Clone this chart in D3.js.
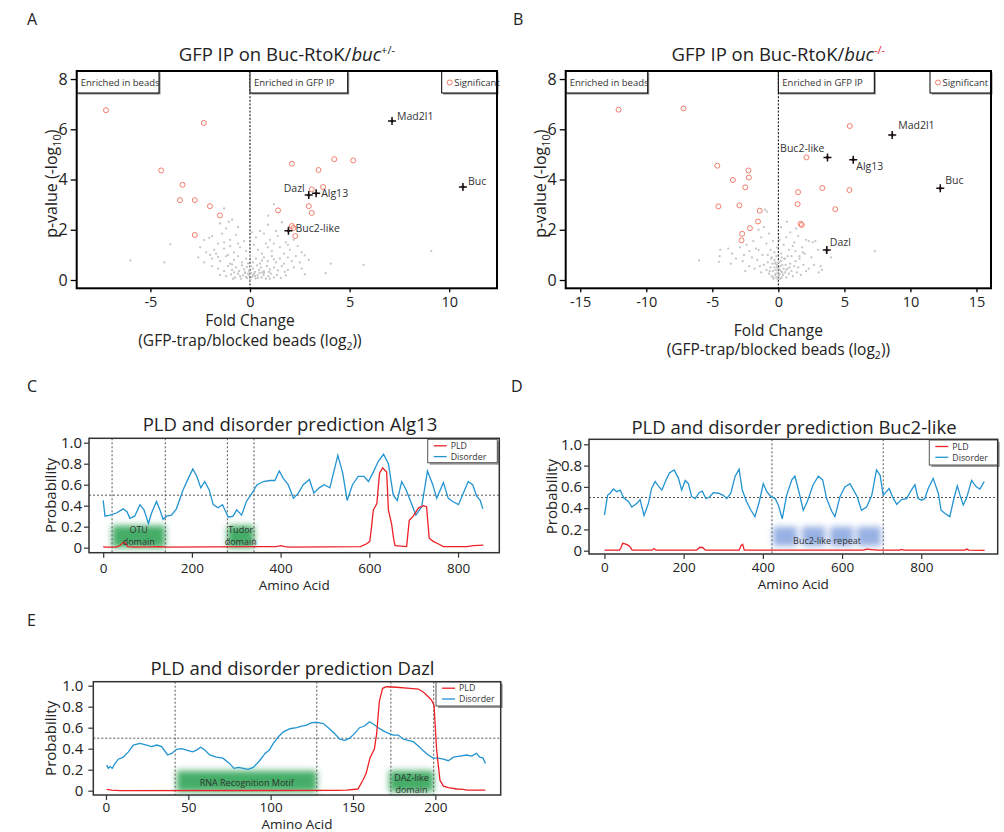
<!DOCTYPE html>
<html><head><meta charset="utf-8">
<script src="https://cdn.jsdelivr.net/npm/d3@7"></script>
<style>
body{margin:0;background:#fff;}
svg{display:block;}
</style></head><body>
<svg id="fig" width="1004" height="832"></svg>
<script>
const FONT = '"Open Sans", sans-serif';

// ---------- Volcano plots: [log2 fold change, -log10 p] ----------
const pTicks = [0, 2, 4, 6, 8];
const aFoldTicks = [-5, 0, 5, 10];
const bFoldTicks = [-15, -10, -5, 0, 5, 10, 15];

const aSignificant = [[-7.23,6.76],[-2.32,6.25],[-4.46,4.36],[-3.39,3.79],[-3.52,3.18],[-2.77,3.18],[-2.01,2.94],[-1.51,2.57],[-2.77,1.79],
  [2.10,4.63],[4.23,4.81],[5.18,4.76],[3.44,4.38],[3.67,3.70],[3.10,3.61],[1.41,2.77],[2.95,2.94],[3.10,2.67],[2.10,2.15],[2.18,2.07],[2.27,1.75]];
const aHits = [["Mad2l1",7.13,6.33],["Buc",10.69,3.70],["Dazl",2.95,3.38],["Alg13",3.32,3.45],["Buc2-like",1.93,1.96]];
const aBackground = [[-6.0,0.78],[-4.3,0.7],[-4.0,1.42],[9.1,1.15],[5.7,0.6],[4.05,0.65],[3.8,0.27],[2.75,0.98],[2.95,0.8],[2.75,0.23],[1.2,3.02],[0.92,2.56],[-1.3,2.85],[-1.5,2.25],[-1.07,2.32],[-2.3,1.59],[-2.05,1.68],[-2.5,1.3],[-1.8,1.2],[-1.6,1.45],[-2.6,0.9],
  [-1.2,2.05],[-0.9,2.4],[0.9,2.2],[1.6,2.3],[1.3,1.95],[-0.6,2.1],[0.5,1.95],
  [-1.9,1.75],[-1.4,1.85],[-1.0,1.6],[-0.7,1.8],[-0.3,1.55],[0.3,1.7],[0.7,1.85],[1.0,1.6],[1.4,1.75],[1.8,1.5],[2.2,1.6],[1.2,1.45],[-1.3,1.5],[0.1,1.9],
  [-2.2,1.1],[-1.7,1.05],[-1.3,1.25],[-1.0,1.35],[-0.8,1.1],[-0.5,1.3],[-0.2,1.15],[0.2,1.4],[0.4,1.2],[0.6,1.05],[0.9,1.3],[1.1,1.15],[1.5,1.3],[1.7,1.05],[2.0,1.2],[2.4,1.35],[2.6,1.1],[-0.6,1.45],[0.8,1.45],[1.9,1.4],[-1.1,1.0],
  [-2.3,0.7],[-1.9,0.85],[-1.5,0.75],[-1.2,0.95],[-1.0,0.65],[-0.8,0.8],[-0.6,0.95],[-0.4,0.7],[-0.2,0.85],[0.0,0.95],[0.15,0.7],[0.3,0.85],[0.5,0.65],[0.7,0.9],[0.9,0.75],[1.1,0.95],[1.3,0.7],[1.5,0.85],[1.7,0.65],[1.9,0.9],[2.1,0.75],[2.3,0.95],[-0.9,0.62],[0.6,0.78],[1.2,0.82],[-1.6,0.92],[-0.1,0.66],[2.5,0.7],[-2.0,1.0],
  [-1.6,0.45],[-1.3,0.35],[-1.1,0.55],[-0.9,0.4],[-0.7,0.5],[-0.55,0.35],[-0.4,0.58],[-0.3,0.42],[-0.15,0.52],[-0.05,0.36],[0.05,0.55],[0.15,0.45],[0.25,0.32],[0.35,0.58],[0.45,0.4],[0.55,0.5],[0.7,0.35],[0.85,0.55],[1.0,0.42],[1.2,0.5],[1.4,0.38],[1.6,0.55],[1.9,0.4],[2.2,0.5],[-0.8,0.3],[0.6,0.3],[-0.25,0.3],[0.95,0.32],[-1.9,0.55],[2.6,0.45],[1.75,0.32],
  [-1.2,0.15],[-0.95,0.22],[-0.75,0.1],[-0.6,0.25],[-0.45,0.05],[-0.35,0.18],[-0.25,0.28],[-0.15,0.08],[-0.05,0.2],[0.02,0.02],[0.1,0.12],[0.2,0.25],[0.28,0.06],[0.38,0.18],[0.48,0.28],[0.58,0.1],[0.68,0.2],[0.8,0.05],[0.92,0.15],[1.05,0.25],[1.2,0.1],[1.35,0.2],[1.55,0.08],[1.8,0.18],[-0.5,0.15],[0.15,0.2],[-0.1,0.25],[0.4,0.08],[0.05,0.28],[-0.2,0.12],[0.7,0.28],[1.0,0.05],[-1.5,0.2],[-0.85,0.05],[0.25,0.15]];

const bSignificant = [[-12.1,6.78],[-7.18,6.83],[-4.62,4.55],[-2.26,4.36],[-3.44,3.98],[-2.23,4.08],[-2.51,3.69],[-4.54,2.93],[-2.95,2.97],[-1.41,2.76],[-1.54,2.33],[-2.15,2.06],[-2.74,1.84],[-2.79,1.58],
  [5.41,6.13],[2.13,4.88],[3.33,3.66],[5.38,3.58],[1.49,3.50],[1.46,3.02],[4.31,2.82],[1.69,2.24],[1.77,2.19]];
const bHits = [["Mad2l1",8.62,5.77],["Buc2-like",3.72,4.88],["Alg13",5.67,4.79],["Buc",12.26,3.65],["Dazl",3.67,1.19]];
const bBackground = [[-6.0,0.78],[-4.5,0.72],[-4.45,0.95],[-4.4,1.2],[-3.8,1.25],[-3.5,1.05],[-3.2,0.85],[-3.6,0.65],[-2.9,1.3],[-2.6,1.0],[-2.4,1.4],[-2.7,0.75],[-2.2,1.15],[-2.0,0.9],[-1.9,1.55],[-1.7,1.25],[-1.5,2.0],[-1.3,1.7],[-1.1,2.1],[-1.0,2.8],[-0.85,2.72],[-0.9,1.45],[-1.2,1.0],[-1.6,0.8],[-1.4,0.55],[-0.7,1.85],[-0.6,1.2],[-0.5,0.9],[-0.4,1.55],[-0.3,1.1],[-0.2,0.7],[-0.1,1.3],[0.1,1.6],[0.2,1.05],[0.4,1.4],[0.5,0.85],[0.6,1.7],[0.8,1.2],[0.9,1.9],[1.0,0.95],[1.2,1.5],[1.3,1.15],[1.5,1.75],[1.6,0.85],[1.8,1.3],[2.0,1.05],[2.1,1.6],[2.3,1.55],[2.5,0.9],[2.6,1.5],[2.8,1.55],[3.0,1.2],[3.2,0.55],[3.3,0.4],[3.05,0.3],[2.7,0.6],[2.3,0.45],[3.6,1.1],[0.64,2.32],[1.35,2.05],[0.2,2.1],[7.3,1.15],[4.0,0.9],[-2.5,0.35],[-1.8,0.45],
  [-1.1,0.6],[-0.9,0.4],[-0.8,0.7],[-0.7,0.25],[-0.6,0.5],[-0.5,0.15],[-0.45,0.65],[-0.4,0.35],[-0.35,0.05],[-0.3,0.5],[-0.25,0.2],[-0.2,0.4],[-0.15,0.1],[-0.1,0.6],[-0.05,0.3],[0.0,0.15],[0.0,0.45],[0.05,0.7],[0.1,0.25],[0.12,0.05],[0.15,0.55],[0.2,0.35],[0.25,0.1],[0.3,0.6],[0.35,0.2],[0.4,0.45],[0.5,0.3],[0.55,0.6],[0.6,0.1],[0.7,0.45],[0.8,0.25],[0.9,0.65],[1.0,0.35],[1.1,0.15],[1.2,0.55],[1.3,0.75],[1.4,0.3],[1.5,0.5],[1.7,0.2],[1.9,0.6],[2.1,0.35],[-0.3,0.8],[-0.55,0.85],[0.45,0.85],[-0.15,0.95],[0.25,0.9],[0.7,0.95],[-0.8,1.0],[1.1,1.35],[-0.05,0.02],[-0.2,0.25],[0.1,0.4],[-0.4,0.1],[0.3,0.3],[-0.1,0.5],[0.05,0.2],[0.2,0.75],[-0.25,0.65],[0.6,0.4],[-0.65,0.35],[0.85,0.5],[1.6,0.95],[1.85,1.1],[-1.3,0.3],[-2.2,0.55],[-1.5,1.2]];

// ---------- Sequence profiles: [amino acid, probability] ----------
const probTicks = [0, 0.2, 0.4, 0.6, 0.8, 1.0];
const longAaTicks = [0, 200, 400, 600, 800];
const dazlAaTicks = [0, 50, 100, 150, 200];

const alg13Disorder = [[0,0.45],[4,0.30],[15,0.31],[30,0.33],[45,0.37],[54,0.34],[60,0.28],[71,0.30],[83,0.41],[92,0.36],[102,0.23],[109,0.33],[120,0.44],[128,0.36],[135,0.27],[143,0.30],[154,0.31],[165,0.37],[180,0.55],[192,0.66],[202,0.75],[211,0.68],[220,0.57],[229,0.63],[239,0.55],[248,0.41],[259,0.38],[269,0.41],[282,0.29],[293,0.30],[301,0.36],[312,0.31],[323,0.44],[337,0.53],[347,0.60],[361,0.63],[376,0.64],[387,0.64],[397,0.73],[406,0.66],[417,0.60],[429,0.47],[440,0.52],[451,0.60],[465,0.65],[475,0.52],[487,0.57],[498,0.60],[511,0.57],[529,0.88],[540,0.71],[550,0.45],[562,0.60],[575,0.68],[588,0.68],[598,0.63],[609,0.72],[620,0.82],[632,0.89],[643,0.80],[654,0.50],[663,0.45],[673,0.63],[683,0.55],[695,0.42],[705,0.31],[718,0.39],[731,0.73],[743,0.60],[752,0.47],[767,0.62],[778,0.47],[788,0.44],[801,0.41],[812,0.52],[823,0.63],[833,0.60],[842,0.49],[850,0.45],[856,0.37]];
const alg13PLD = [[0,0.01],[5,0.005],[30,0.005],[38,0.02],[45,0.05],[50,0.045],[55,0.01],[70,0.005],[130,0.01],[145,0.005],[390,0.01],[400,0.02],[410,0.01],[420,0.005],[580,0.01],[595,0.04],[601,0.06],[605,0.2],[609,0.36],[617,0.42],[623,0.71],[630,0.76],[639,0.72],[643,0.36],[650,0.23],[655,0.08],[658,0.02],[684,0.01],[690,0.26],[699,0.30],[711,0.38],[722,0.40],[729,0.39],[735,0.09],[744,0.06],[756,0.035],[767,0.01],[820,0.01],[835,0.02],[857,0.025]];
const alg13Guides = [20, 140, 280, 340];
const alg13Domains = [[["OTU","domain"],20,140],[["Tudor","domain"],280,340]];

const buc2Disorder = [[0,0.335],[8,0.52],[14,0.54],[23,0.58],[31,0.555],[40,0.57],[48,0.50],[61,0.46],[69,0.41],[82,0.445],[90,0.48],[100,0.33],[111,0.445],[119,0.585],[128,0.65],[136,0.61],[145,0.57],[155,0.66],[164,0.73],[176,0.76],[187,0.68],[195,0.57],[204,0.66],[212,0.63],[220,0.51],[229,0.49],[239,0.545],[247,0.56],[256,0.49],[264,0.50],[275,0.545],[288,0.54],[300,0.52],[309,0.49],[319,0.54],[330,0.70],[340,0.765],[348,0.57],[359,0.46],[370,0.38],[380,0.32],[391,0.46],[401,0.63],[410,0.555],[420,0.51],[431,0.49],[439,0.43],[449,0.30],[460,0.52],[473,0.665],[481,0.70],[492,0.54],[502,0.38],[512,0.46],[527,0.62],[540,0.70],[551,0.665],[561,0.49],[574,0.37],[582,0.32],[595,0.51],[607,0.60],[620,0.63],[631,0.555],[638,0.51],[649,0.38],[662,0.41],[675,0.52],[687,0.76],[696,0.71],[704,0.52],[712,0.555],[719,0.585],[727,0.51],[738,0.435],[750,0.48],[763,0.49],[775,0.57],[784,0.62],[792,0.49],[801,0.475],[809,0.49],[817,0.58],[830,0.68],[843,0.54],[850,0.38],[860,0.35],[872,0.32],[883,0.50],[891,0.61],[898,0.52],[906,0.43],[914,0.49],[927,0.66],[939,0.60],[948,0.58],[956,0.63],[959,0.65]];
const buc2PLD = [[0,0.005],[38,0.005],[42,0.03],[46,0.07],[52,0.065],[58,0.055],[64,0.04],[70,0.005],[120,0.005],[125,0.02],[130,0.005],[233,0.005],[240,0.03],[248,0.03],[255,0.005],[340,0.005],[345,0.05],[349,0.06],[353,0.005],[655,0.005],[662,0.015],[675,0.01],[690,0.005],[745,0.005],[750,0.012],[756,0.005],[910,0.005],[915,0.015],[920,0.005],[960,0.003]];
const buc2Guides = [423, 704];
const buc2Repeats = [[426,486],[499,557],[570,628],[638,698]];

const dazlDisorder = [[0.4,0.244],[1.4,0.213],[2.4,0.23],[3.8,0.213],[5.5,0.26],[7.5,0.30],[10.5,0.32],[13.6,0.37],[16.6,0.435],[20.6,0.45],[24.7,0.435],[27.7,0.42],[30.8,0.435],[33.8,0.42],[37.4,0.34],[39.9,0.355],[42.9,0.394],[46,0.40],[49,0.387],[52.6,0.37],[55,0.387],[57.5,0.413],[60,0.387],[63,0.34],[67,0.32],[71,0.31],[75,0.26],[77.7,0.213],[80.4,0.222],[83.4,0.213],[86.4,0.203],[89.5,0.222],[93.5,0.29],[96.6,0.355],[99.2,0.387],[101.6,0.45],[104.7,0.514],[107.7,0.56],[111.7,0.59],[115.8,0.60],[118.8,0.616],[121.9,0.625],[124.9,0.648],[128.3,0.65],[132,0.64],[135,0.60],[138.5,0.55],[142,0.49],[145,0.48],[148,0.50],[151,0.546],[154,0.60],[157,0.616],[160,0.657],[162.3,0.635],[165.4,0.60],[168.4,0.57],[171.5,0.546],[174.5,0.53],[177.5,0.53],[180.6,0.49],[183.6,0.48],[186.6,0.467],[189.7,0.425],[192.7,0.38],[195.7,0.34],[198.8,0.31],[201.8,0.31],[204.9,0.30],[207.9,0.286],[211,0.32],[215,0.33],[219,0.34],[222,0.33],[225,0.355],[227,0.32],[229,0.31],[230.4,0.26]];
const dazlPLD = [[0.4,0.013],[3.4,0.006],[8.5,0],[140,0.003],[146,0.006],[153,0.016],[156,0.10],[158,0.165],[160.3,0.31],[163,0.40],[164.4,0.546],[166,0.85],[168,0.975],[170.4,0.99],[176.5,0.985],[184.6,0.975],[189.7,0.968],[192.7,0.94],[195.7,0.895],[197.8,0.86],[199.2,0.815],[200.8,0.387],[202.8,0.10],[204.9,0.044],[207.9,0.03],[213,0.016],[217,0.013],[219,0.006],[230.4,0.006]];
const dazlGuides = [42, 128, 173, 199];
const dazlDomains = [[["RNA Recognition Motif"],43,128],[["DAZ-like","domain"],172,199]];

// ---------- drawing ----------
const svg = d3.select("#fig").attr("font-family", FONT);
const defs = svg.append("defs");
defs.append("filter").attr("id", "soft").attr("x", "-40%").attr("y", "-60%").attr("width", "180%").attr("height", "220%")
  .append("feGaussianBlur").attr("stdDeviation", 3);

function panelLetter(txt, x, y) {
  svg.append("text").attr("x", x).attr("y", y).attr("font-size", 16).attr("fill", "#222").text(txt);
}

function legendBox(g, x0, y0, w, h, shadow) {
  g.append("rect").attr("x", x0 + 1.5).attr("y", y0 + 1.5).attr("width", w).attr("height", h).attr("fill", shadow);
  g.append("rect").attr("x", x0).attr("y", y0).attr("width", w).attr("height", h).attr("fill", "#fff").attr("stroke", "#000").attr("stroke-width", 1);
}

function drawVolcano(o) {
  const x = d3.scaleLinear().domain(o.xDomain).range([o.left, o.right]);
  const y = d3.scaleLinear().domain([-0.33, 8.32]).range([o.bottom, o.top]);
  const g = svg.append("g");

  g.append("line").attr("x1", x(0)).attr("x2", x(0)).attr("y1", o.top).attr("y2", o.bottom)
    .attr("stroke", "#000").attr("stroke-width", 1).attr("stroke-dasharray", "2,1.6");

  g.append("g").selectAll("circle").data(o.background).join("circle")
    .attr("cx", d => x(d[0])).attr("cy", d => y(d[1])).attr("r", 1.15).attr("fill", "#c6c6c6");

  g.append("g").selectAll("circle").data(o.significant).join("circle")
    .attr("cx", d => x(d[0])).attr("cy", d => y(d[1])).attr("r", 2.5)
    .attr("fill", "none").attr("stroke", "#f27e6c").attr("stroke-width", 1);

  const hits = g.append("g").selectAll("g").data(o.hits).join("g")
    .attr("transform", d => `translate(${x(d[1])},${y(d[2])})`);
  hits.append("circle").attr("r", 1.7).attr("fill", "#b7463c");
  hits.append("path").attr("d", "M-4,0H4M0,-4V4").attr("stroke", "#111").attr("stroke-width", 1.5);
  hits.append("text").text(d => d[0])
    .attr("x", d => o.labelPos[d[0]][0]).attr("y", d => o.labelPos[d[0]][1])
    .attr("text-anchor", d => o.labelPos[d[0]][2])
    .attr("font-size", 10.5).attr("fill", "#333");

  // key boxes along the top edge
  const bh = 22;
  legendBox(g, o.left, o.top, o.beadsRight - o.left, bh, "#8a8a8a");
  legendBox(g, x(0), o.top, o.gfpRight - x(0), bh, "#8a8a8a");
  legendBox(g, o.sigLeft, o.top, o.right - o.sigLeft, bh, "#8a8a8a");
  g.append("text").attr("x", o.left + 4).attr("y", o.top + 15).attr("font-size", 9.5).attr("fill", "#333").text("Enriched in beads");
  g.append("text").attr("x", x(0) + 4).attr("y", o.top + 15).attr("font-size", 9.5).attr("fill", "#333").text("Enriched in GFP IP");
  g.append("circle").attr("cx", o.sigLeft + 8).attr("cy", o.top + 11.5).attr("r", 2.5).attr("fill", "none").attr("stroke", "#f27e6c");
  g.append("text").attr("x", o.sigLeft + 12.5).attr("y", o.top + 15).attr("font-size", 9.5).attr("fill", "#333").text("Significant");

  const ya = g.append("g").attr("transform", `translate(${o.left},0)`)
    .call(d3.axisLeft(y).tickValues(pTicks).tickSize(6).tickPadding(3).tickFormat(d => String(d)));
  ya.select(".domain").remove();
  ya.attr("font-family", FONT).attr("font-size", 16);
  ya.selectAll("text").attr("fill", "#222");
  ya.selectAll("line").attr("stroke", "#000").attr("stroke-width", 1.3);

  const xa = g.append("g").attr("transform", `translate(0,${o.bottom})`)
    .call(d3.axisBottom(x).tickValues(o.xTicks).tickSize(4).tickPadding(4).tickFormat(d => String(d)));
  xa.select(".domain").remove();
  xa.attr("font-family", FONT).attr("font-size", 14.5);
  xa.selectAll("text").attr("fill", "#222");
  xa.selectAll("line").attr("stroke", "#000").attr("stroke-width", 1.3);

  g.append("rect").attr("x", o.left).attr("y", o.top).attr("width", o.right - o.left).attr("height", o.bottom - o.top)
    .attr("fill", "none").attr("stroke", "#000").attr("stroke-width", 2);

  // title
  const cx = (o.left + o.right) / 2;
  const t = g.append("text").attr("x", cx).attr("y", 61).attr("text-anchor", "middle").attr("font-size", 18.5).attr("fill", "#222");
  t.append("tspan").text("GFP IP on Buc-RtoK/");
  t.append("tspan").attr("font-style", "italic").text("buc");
  t.append("tspan").attr("dy", -7).attr("font-size", 11).attr("fill", o.genoColor).text(o.genotype);

  // y label
  const yl = g.append("text").attr("transform", `translate(${o.left - 20},${(o.top + o.bottom) / 2 + 4}) rotate(-90)`)
    .attr("text-anchor", "middle").attr("font-size", 16).attr("fill", "#222");
  yl.append("tspan").text("p-value (-log");
  yl.append("tspan").attr("dy", 4).attr("font-size", 11).text("10");
  yl.append("tspan").attr("dy", -4).text(")");

  // x label
  const mid = x(o.labelCenter);
  g.append("text").attr("x", mid).attr("y", o.xLabelY).attr("text-anchor", "middle").attr("font-size", 15.5).attr("fill", "#222").text("Fold Change");
  const xl = g.append("text").attr("x", mid).attr("y", o.xLabelY + 19.5).attr("text-anchor", "middle").attr("font-size", 15.5).attr("fill", "#222");
  xl.append("tspan").text(o.sub);
  xl.append("tspan").attr("dy", 4).attr("font-size", 10.5).text("2");
  xl.append("tspan").attr("dy", -4).text("))");
}

drawVolcano({
  left: 76.7, right: 497, top: 71, bottom: 288.3, xDomain: [-8.7, 12.4], xTicks: aFoldTicks,
  background: aBackground, significant: aSignificant, hits: aHits,
  labelPos: {"Mad2l1": [5, -1, "start"], "Buc": [5, -2, "start"], "Dazl": [-4, -3, "end"], "Alg13": [5, 3.5, "start"], "Buc2-like": [7, 1, "start"]},
  beadsRight: 159, gfpRight: 347.7, sigLeft: 441.7,
  genotype: "+/-", genoColor: "#222", xLabelY: 326, labelCenter: 0, sub: "(GFP-trap/blocked beads  (log"
});
drawVolcano({
  left: 565.7, right: 991, top: 71, bottom: 288.3, xDomain: [-16.1, 16.1], xTicks: bFoldTicks,
  background: bBackground, significant: bSignificant, hits: bHits,
  labelPos: {"Mad2l1": [6, -6, "start"], "Buc": [5, -4, "start"], "Dazl": [3, -4, "start"], "Alg13": [3, 10, "start"], "Buc2-like": [-3, -5, "end"]},
  beadsRight: 647.7, gfpRight: 874.3, sigLeft: 930,
  genotype: "-/-", genoColor: "#e0201b", xLabelY: 335.5, labelCenter: 0, sub: "(GFP-trap/blocked beads (log"
});

function drawProfile(o) {
  const x = d3.scaleLinear().domain(o.xDomain).range([o.left, o.right]);
  const y = d3.scaleLinear().domain(o.yDomain).range([o.bottom, o.top]);
  const g = svg.append("g");

  // annotated regions (soft blurred blocks)
  g.append("g").attr("filter", "url(#soft)").selectAll("rect").data(o.regions).join("rect")
    .attr("x", d => x(d[0])).attr("width", d => x(d[1]) - x(d[0]))
    .attr("y", y(o.regionTop)).attr("height", y(o.regionBottom) - y(o.regionTop))
    .attr("fill", o.regionColor);

  // guides
  g.append("g").selectAll("line").data(o.guides).join("line")
    .attr("x1", d => x(d)).attr("x2", d => x(d)).attr("y1", o.top).attr("y2", o.bottom)
    .attr("stroke", "#555").attr("stroke-width", 1).attr("stroke-dasharray", "2,2");
  g.append("line").attr("x1", o.left).attr("x2", o.right).attr("y1", y(0.5)).attr("y2", y(0.5))
    .attr("stroke", "#555").attr("stroke-width", 1).attr("stroke-dasharray", "2,2");

  const line = d3.line().x(d => x(d[0])).y(d => y(d[1]));
  g.append("path").attr("d", line(o.disorder)).attr("fill", "none").attr("stroke", "#2394d2").attr("stroke-width", 1.3);
  g.append("path").attr("d", line(o.pld)).attr("fill", "none").attr("stroke", "#ec2227").attr("stroke-width", 1.3);

  // region captions
  o.captions.forEach(c => {
    const t = g.append("text").attr("x", x((c[1] + c[2]) / 2)).attr("text-anchor", "middle").attr("font-size", 9).attr("fill", "#333");
    const lines = c[0];
    lines.forEach((s, i) => {
      t.append("tspan").attr("x", x((c[1] + c[2]) / 2)).attr("y", o.captionY[lines.length - 1] + i * 12.5).text(s);
    });
  });

  // legend
  const L = o.legend;
  g.append("rect").attr("x", L.x + 2).attr("y", L.y + 2).attr("width", L.w).attr("height", L.h).attr("fill", "#9a9a9a");
  g.append("rect").attr("x", L.x).attr("y", L.y).attr("width", L.w).attr("height", L.h).attr("fill", "#fff").attr("stroke", "#555").attr("stroke-width", 1);
  [["PLD", "#ec2227"], ["Disorder", "#2394d2"]].forEach((d, i) => {
    const yy = L.y + 6.5 + i * 10.8;
    g.append("line").attr("x1", L.x + 6).attr("x2", L.x + 19).attr("y1", yy).attr("y2", yy).attr("stroke", d[1]).attr("stroke-width", 1.3);
    g.append("text").attr("x", L.x + 23).attr("y", yy + 3.2).attr("font-size", 8.8).attr("fill", "#333").text(d[0]);
  });

  const ya = g.append("g").attr("transform", `translate(${o.left},0)`)
    .call(d3.axisLeft(y).tickValues(probTicks).tickSize(5).tickPadding(o.yPad).tickFormat(d => d === 0 ? "0" : d3.format(".1f")(d)));
  ya.select(".domain").remove();
  ya.attr("font-family", FONT).attr("font-size", 15);
  ya.selectAll("text").attr("fill", "#222");
  ya.selectAll("line").attr("stroke", "#333").attr("stroke-width", 1.2);

  const xa = g.append("g").attr("transform", `translate(0,${o.bottom})`)
    .call(d3.axisBottom(x).tickValues(o.xTicks).tickSize(5).tickPadding(o.xPad).tickFormat(d => String(d)));
  xa.select(".domain").remove();
  xa.attr("font-family", FONT).attr("font-size", 13.5);
  xa.selectAll("text").attr("fill", "#222");
  xa.selectAll("line").attr("stroke", "#333").attr("stroke-width", 1.2);

  g.append("rect").attr("x", o.left).attr("y", o.top).attr("width", o.right - o.left).attr("height", o.bottom - o.top)
    .attr("fill", "none").attr("stroke", "#333").attr("stroke-width", 1.5);

  g.append("text").attr("x", o.titleX).attr("y", o.titleY).attr("text-anchor", "middle").attr("font-size", 18.5).attr("fill", "#222")
    .text("PLD and disorder prediction " + o.name);
  g.append("text").attr("x", (o.left + o.right) / 2).attr("y", o.xLabelY).attr("text-anchor", "middle").attr("font-size", 13.5).attr("fill", "#222").text("Amino Acid");
  g.append("text").attr("transform", `translate(${o.yLabelX},${(o.top + o.bottom) / 2}) rotate(-90)`)
    .attr("text-anchor", "middle").attr("font-size", 15).attr("fill", "#222").text("Probability");
}

drawProfile({
  name: "Alg13", left: 89, right: 499.3, top: 438.3, bottom: 552.7, xDomain: [-32, 893], yDomain: [-0.048, 1.042],
  xTicks: longAaTicks, disorder: alg13Disorder, pld: alg13PLD, guides: alg13Guides,
  regions: alg13Domains.map(d => [d[1], d[2]]), captions: alg13Domains, regionTop: 0.21, regionBottom: 0.0,
  regionColor: "#45ad68", captionY: [0, 532.5],
  legend: {x: 427.7, y: 439.3, w: 69.6, h: 23.4},
  yPad: 2, xPad: 6, titleX: 290, titleY: 430.7, xLabelY: 590, yLabelX: 56
});
drawProfile({
  name: "Buc2-like", left: 589, right: 997.7, top: 439.3, bottom: 554, xDomain: [-39, 993], yDomain: [-0.031, 1.047],
  xTicks: longAaTicks, disorder: buc2Disorder, pld: buc2PLD, guides: buc2Guides,
  regions: buc2Repeats, captions: [[["Buc2-like repeat"], 426, 698]], regionTop: 0.225, regionBottom: 0.045,
  regionColor: "#97b1e3", captionY: [543.5],
  legend: {x: 929.3, y: 440, w: 68.4, h: 25},
  yPad: 2, xPad: 3, titleX: 794, titleY: 434, xLabelY: 589, yLabelX: 557
});
drawProfile({
  name: "Dazl", left: 93.3, right: 500.7, top: 681.7, bottom: 795, xDomain: [-7.7, 239.7], yDomain: [-0.041, 1.038],
  xTicks: dazlAaTicks, disorder: dazlDisorder, pld: dazlPLD, guides: dazlGuides,
  regions: dazlDomains.map(d => [d[1], d[2]]), captions: dazlDomains, regionTop: 0.19, regionBottom: -0.01,
  regionColor: "#45ad68", captionY: [786, 780.5],
  legend: {x: 436, y: 681.7, w: 64.7, h: 24.3},
  yPad: 5, xPad: 2, titleX: 292.5, titleY: 675, xLabelY: 829, yLabelX: 56
});

panelLetter("A", 27, 25);
panelLetter("B", 513, 25);
panelLetter("C", 27, 392);
panelLetter("D", 511, 392);
panelLetter("E", 27, 626);
</script></body></html>
